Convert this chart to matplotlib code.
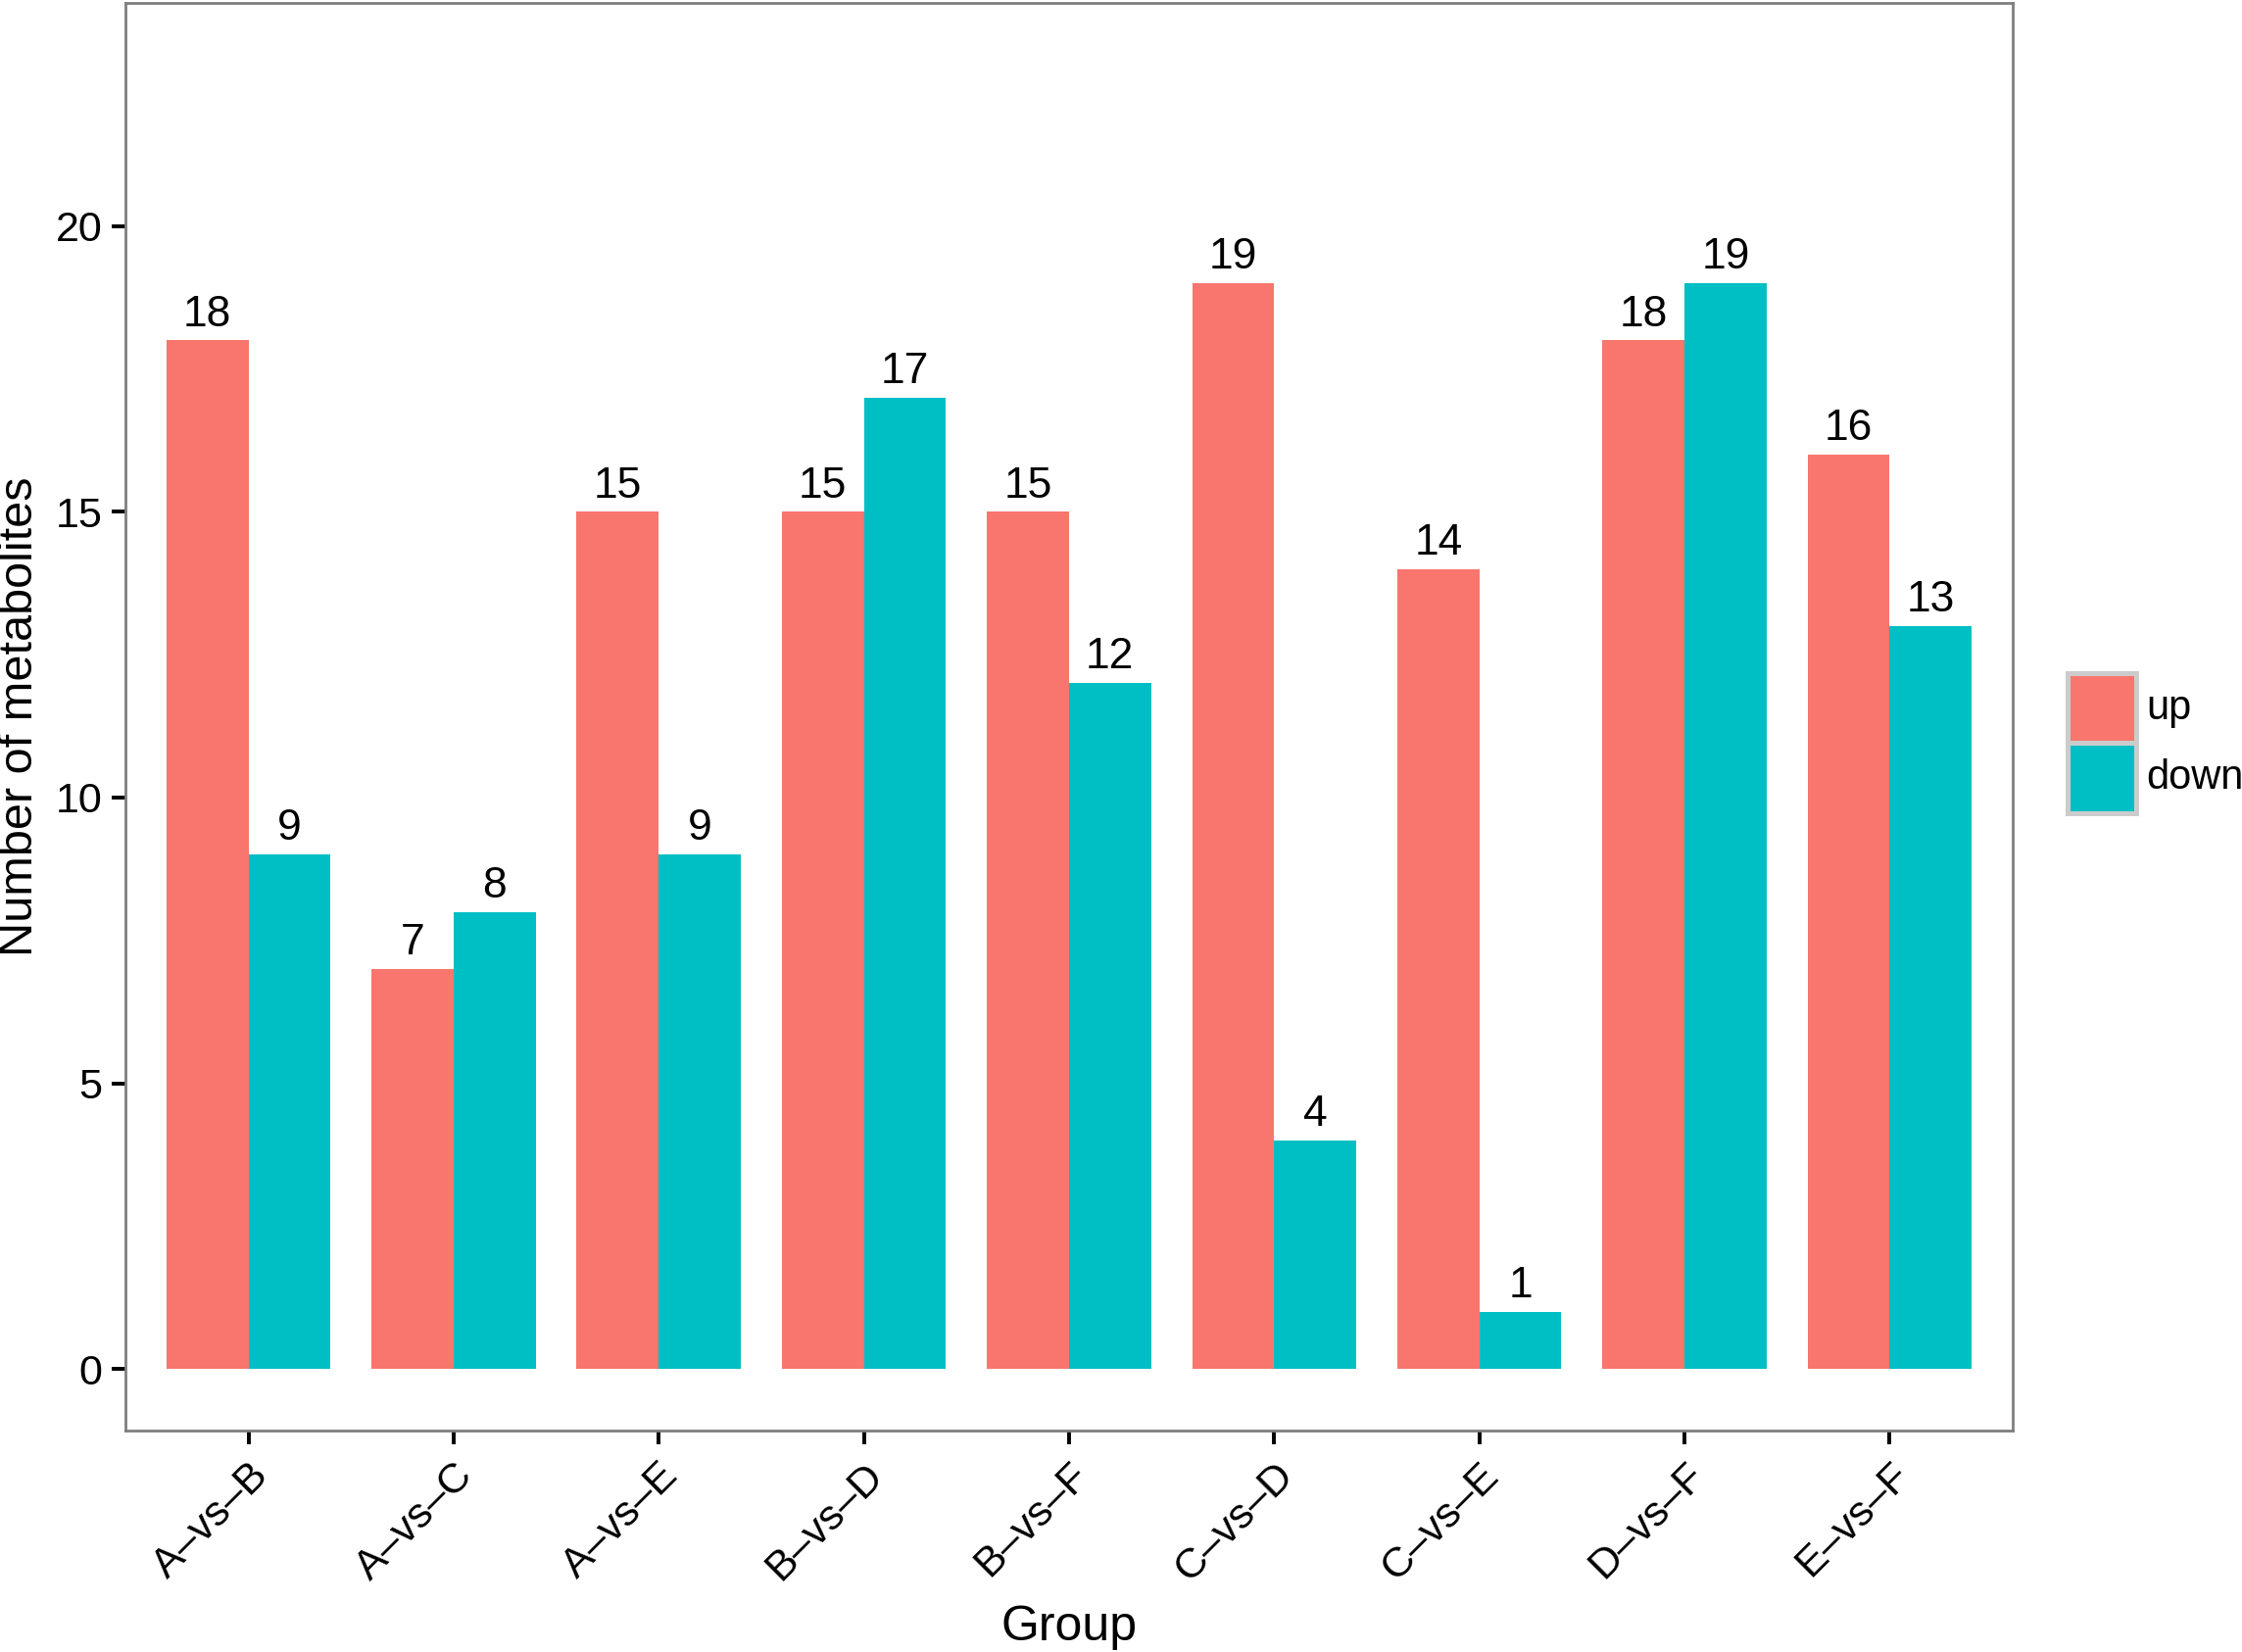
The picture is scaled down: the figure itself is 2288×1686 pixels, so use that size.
import matplotlib
matplotlib.use('Agg')
import matplotlib.pyplot as plt
from matplotlib.patches import Rectangle
import numpy as np

groups = ['A–vs–B', 'A–vs–C', 'A–vs–E', 'B–vs–D', 'B–vs–F',
          'C–vs–D', 'C–vs–E', 'D–vs–F', 'E–vs–F']
up = [18, 7, 15, 15, 15, 19, 14, 18, 16]
down = [9, 8, 9, 17, 12, 4, 1, 19, 13]
series = ['up', 'down']

UP_COLOR = '#F8766D'
DOWN_COLOR = '#00BFC4'

plt.rcParams['font.family'] = ['Liberation Sans', 'DejaVu Sans']

fig = plt.figure(figsize=(11.44, 8.43), dpi=200)
ax = fig.add_axes([0.0559, 0.134, 0.8418, 0.864])

x = np.arange(len(groups))
w = 0.4
ax.bar(x - w / 2, up, width=w, color=UP_COLOR, linewidth=0)
ax.bar(x + w / 2, down, width=w, color=DOWN_COLOR, linewidth=0)

for i in range(len(groups)):
    ax.text(x[i] - w / 2, up[i] + 0.1, str(up[i]), ha='center', va='bottom', fontsize=16)
    ax.text(x[i] + w / 2, down[i] + 0.1, str(down[i]), ha='center', va='bottom', fontsize=16)

ax.set_xlim(-0.6, 8.6)
ax.set_ylim(-1.08, 23.9)
ax.set_yticks([0, 5, 10, 15, 20])
ax.set_xticks(x)
ax.set_xticklabels(groups, rotation=45, ha='right', rotation_mode='anchor')

ax.tick_params(axis='both', length=5, width=1.4, color='black', labelsize=15.5)
ax.tick_params(axis='x', pad=4)
for s in ax.spines.values():
    s.set_color('#7f7f7f')
    s.set_linewidth(1.0)

ax.set_xlabel('Group', fontsize=18, labelpad=6)
ax.set_ylabel('Number of metabolites', fontsize=17.5, labelpad=5)

# legend drawn by hand so the two keys sit flush like ggplot's
key_x, key_w, key_h = 0.9222, 0.0306, 0.0424
key_top = 0.5926
for j, (name, col) in enumerate(zip(series, [UP_COLOR, DOWN_COLOR])):
    y0 = key_top - (j + 1) * key_h
    fig.add_artist(Rectangle((key_x, y0), key_w, key_h, transform=fig.transFigure,
                             facecolor=col, edgecolor='#cccccc', linewidth=1.8))
    fig.text(key_x + key_w + 0.0045, y0 + key_h / 2, name, fontsize=15,
             ha='left', va='center')

fig.savefig('out.png', dpi=200)
